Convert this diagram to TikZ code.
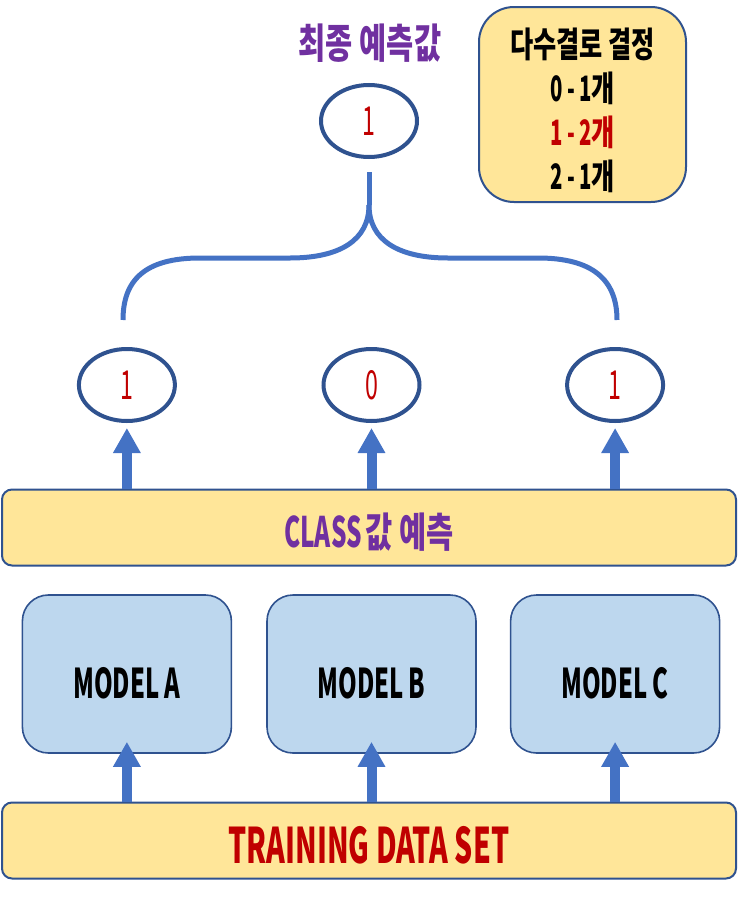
\documentclass[tikz,border=0pt]{standalone}
\usepackage{fontspec}
\newfontfamily\krf{Noto Sans CJK KR}[FakeStretch=0.72]
\newfontfamily\enf{Noto Sans CJK KR}[FakeStretch=0.58]
\usetikzlibrary{arrows.meta,shapes.geometric,positioning}
\definecolor{rimblue}{HTML}{2F528F}
\definecolor{linkblue}{HTML}{4472C4}
\definecolor{bandyellow}{HTML}{FFE699}
\definecolor{modelblue}{HTML}{BDD7EE}
\definecolor{votered}{HTML}{C00000}
\definecolor{titlepurple}{HTML}{7030A0}

\begin{document}
\begin{tikzpicture}[x=1pt,y=-1pt,
	vote/.style={draw=rimblue,line width=4pt,ellipse,minimum width=96pt,minimum height=72pt,inner sep=0pt,text=votered,font=\enf\fontsize{40}{40}\selectfont},
	band/.style={draw=rimblue,line width=2pt,fill=bandyellow,rounded corners=10pt,minimum width=734pt,minimum height=76pt,inner sep=0pt,font=\bfseries},
	model/.style={draw=rimblue,line width=1.6pt,fill=modelblue,rounded corners=26pt,minimum width=209pt,minimum height=158pt,inner sep=0pt,text height=48pt,text depth=0pt,font=\enf\bfseries\fontsize{41}{41}\selectfont},
	up/.style={draw=linkblue,line width=10pt,-{Triangle[width=26pt,length=25pt]}},
	brace/.style={draw=linkblue,line width=5pt}]
	\useasboundingbox (0,0) rectangle (739,902);

	% models and data
	\node[band,text height=45pt,text depth=0pt]	(train)	at (369,840.5)	{\enf\fontsize{49}{49}\selectfont\color{votered}TRAINING DATA SET};
	\node[model]			(mB)		at (371.5,674)		{MODEL B};
	\node[model]			(mA)		[left=34pt of mB]	{MODEL A};
	\node[model]			(mC)		[right=33pt of mB]	{MODEL C};
	\node[band,text height=40pt,text depth=0pt]	(cls)	at (369,527.5)	{\color{titlepurple}{\enf\fontsize{42}{42}\selectfont CLASS} {\krf\fontsize{41}{41}\selectfont 값 예측}};

	% votes
	\node[vote]				(pA)		at (mA |- 0,385)	{1};
	\node[vote]				(pB)		at (mB |- 0,385)	{0};
	\node[vote]				(pC)		at (mC |- 0,385)	{1};
	\node[vote]				(final)		at (369,121)		{1};
	\node[text=titlepurple,font=\krf\bfseries\fontsize{41}{41}\selectfont]	(title)	at (370,43)	{최종 예측값};
	\node[draw=rimblue,line width=2pt,fill=bandyellow,rounded corners=35pt,minimum width=207pt,minimum height=195pt]	(rulebox)	at (582.5,104.5)	{};
	\node[align=center,font=\bfseries\fontsize{35}{44}\selectfont]	(rule)	at (582.5,110)
		{{\krf 다수결로 결정}\\{\enf 0 - 1}{\krf 개}\\{\color{votered}{\enf 1 - 2}{\krf 개}}\\{\enf 2 - 1}{\krf 개}};

	\coordinate				(fork)		at (369,205);
	\coordinate				(braceL)	at (123,320);
	\coordinate				(braceR)	at (617,320);

	\foreach \m/\p in {mA/pA,mB/pB,mC/pC}{
		\draw[up]	(\m |- train.north)	--	([yshift=12pt]\m.south);
		\draw[up]	(\p |- cls.north)	--	([yshift=-5pt]\p.south);
	}

	\draw[brace]	([yshift=-13pt]final.south)	--	(fork);
	\draw[brace]	(fork)	.. controls (369,240) and (340,258) ..	(290,258)	--	(200,258)	.. controls (145,258) and (123,280) ..	(braceL);
	\draw[brace]	(fork)	.. controls (369,240) and (398,258) ..	(448,258)	--	(538,258)	.. controls (593,258) and (617,280) ..	(braceR);
\end{tikzpicture}
\end{document}
